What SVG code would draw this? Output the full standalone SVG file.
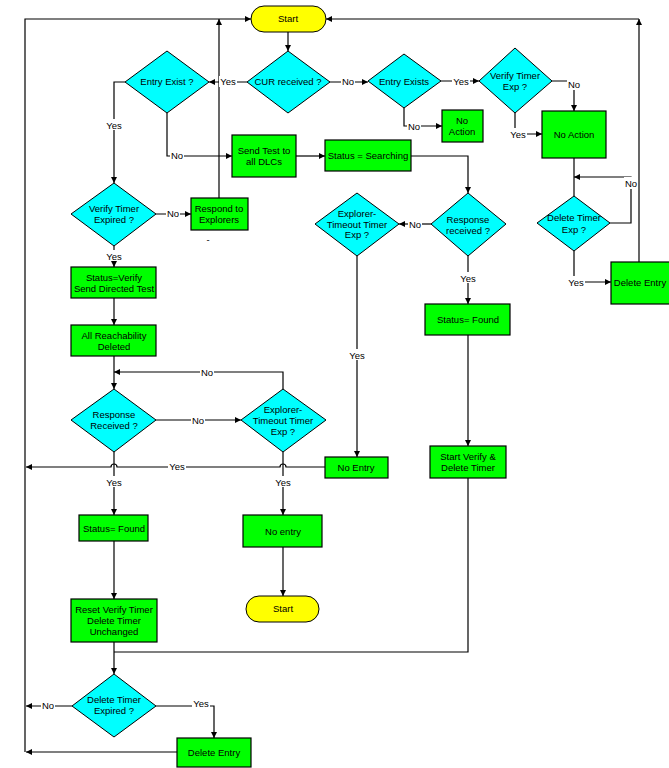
<svg xmlns="http://www.w3.org/2000/svg" width="669" height="768" viewBox="0 0 669 768">
<defs>
<marker id="ah" markerUnits="userSpaceOnUse" markerWidth="7" markerHeight="7" refX="6" refY="3" orient="auto">
<path d="M0,0 L6,3 L0,6 z" fill="#000"/>
</marker>
<style>
.t{font-family:"Liberation Sans",Arial,sans-serif;font-size:9.5px;fill:#000;text-anchor:middle;dominant-baseline:central}
.box{fill:#00ff00;stroke:#000;stroke-width:1.2}
.dia{fill:#00ffff;stroke:#000;stroke-width:1}
.term{fill:#ffff00;stroke:#000;stroke-width:1}
.c{fill:none;stroke:#000;stroke-width:1.2}
.a{marker-end:url(#ah)}
.bg{fill:#fff}
</style>
</defs>
<rect width="669" height="768" fill="#fff"/>

<g id="connectors">
<path class="c a" d="M25,752 V19 H251"/>
<path class="c a" d="M177,752 H26"/>
<path class="c a" d="M72,706 H26"/>
<path class="c a" d="M325,467 H286 A3,3 0 0 0 280,467 H117 A3,3 0 0 0 111,467 H26"/>
<path class="c a" d="M288,32 V51"/>
<path class="c a" d="M247,82 H209"/>
<path class="c a" d="M330,82 H368"/>
<path class="c a" d="M125,82 H114 V183"/>
<path class="c a" d="M167,113 V156 H232"/>
<path class="c a" d="M296,156 H325"/>
<path class="c a" d="M411,156 H468 V193"/>
<path class="c a" d="M431,224 H399"/>
<path class="c a" d="M357,256 V457"/>
<path class="c a" d="M468,256 V304"/>
<path class="c a" d="M468,335 V446"/>
<path class="c" d="M468,478 V652 H114"/>
<path class="c a" d="M441,81 H479"/>
<path class="c a" d="M404,108 V126 H442"/>
<path class="c a" d="M552,81 H574 V111"/>
<path class="c a" d="M515,113 V134 H542"/>
<path class="c" d="M574,158 V196"/>
<path class="c a" d="M610,223 H631 V177 H574"/>
<path class="c a" d="M574,251 V282 H611"/>
<path class="c a" d="M639,262 V19"/>
<path class="c a" d="M639,19 H326"/>
<path class="c a" d="M156,214 H191"/>
<path class="c a" d="M219,198 V19"/>
<path class="c a" d="M114,246 V267"/>
<path class="c a" d="M114,298 V325"/>
<path class="c a" d="M114,356 V389"/>
<path class="c a" d="M283,389 V372 H114"/>
<path class="c a" d="M156,420 H241"/>
<path class="c a" d="M114,452 V515"/>
<path class="c a" d="M283,452 V515"/>
<path class="c a" d="M283,547 V596"/>
<path class="c a" d="M114,541 V599"/>
<path class="c a" d="M114,642 V674"/>
<path class="c a" d="M156,706 H214 V738"/>
</g>

<g id="labels">
<rect class="bg" x="219" y="76" width="18" height="11"/><text class="t" x="228" y="81">Yes</text>
<rect class="bg" x="341" y="76" width="14" height="11"/><text class="t" x="348" y="81">No</text>
<rect class="bg" x="105" y="119" width="18" height="11"/><text class="t" x="114" y="125">Yes</text>
<rect class="bg" x="170" y="150" width="14" height="11"/><text class="t" x="177" y="155">No</text>
<rect class="bg" x="408" y="218" width="14" height="11"/><text class="t" x="415" y="224">No</text>
<rect class="bg" x="348" y="349" width="18" height="11"/><text class="t" x="357" y="355">Yes</text>
<rect class="bg" x="459" y="272" width="18" height="11"/><text class="t" x="468" y="278">Yes</text>
<rect class="bg" x="452" y="75" width="18" height="11"/><text class="t" x="461" y="81">Yes</text>
<rect class="bg" x="407" y="120" width="14" height="11"/><text class="t" x="414" y="126">No</text>
<rect class="bg" x="567" y="78" width="14" height="12"/><text class="t" x="574" y="84">No</text>
<rect class="bg" x="509" y="128" width="18" height="11"/><text class="t" x="518" y="134">Yes</text>
<rect class="bg" x="624" y="177" width="14" height="12"/><text class="t" x="631" y="183">No</text>
<rect class="bg" x="567" y="276" width="18" height="11"/><text class="t" x="576" y="282">Yes</text>
<rect class="bg" x="166" y="208" width="14" height="11"/><text class="t" x="173" y="213">No</text>
<text class="t" x="208" y="239">-</text>
<rect class="bg" x="105" y="250" width="18" height="11"/><text class="t" x="114" y="256">Yes</text>
<rect class="bg" x="200" y="366" width="14" height="11"/><text class="t" x="207" y="372">No</text>
<rect class="bg" x="191" y="414" width="14" height="11"/><text class="t" x="198" y="420">No</text>
<rect class="bg" x="168" y="461" width="18" height="11"/><text class="t" x="177" y="466">Yes</text>
<rect class="bg" x="105" y="476" width="18" height="11"/><text class="t" x="114" y="482">Yes</text>
<rect class="bg" x="274" y="476" width="18" height="11"/><text class="t" x="283" y="482">Yes</text>
<rect class="bg" x="192" y="698" width="18" height="11"/><text class="t" x="201" y="703">Yes</text>
<rect class="bg" x="41" y="700" width="14" height="11"/><text class="t" x="48" y="705">No</text>
</g>

<g id="start1"><rect class="term" x="251" y="6" width="75" height="26" rx="13"/><text class="t" x="288" y="18">Start</text></g>
<g id="cur"><polygon class="dia" points="288,51 330,82 288,113 247,82"/><text class="t" x="288" y="81">CUR received ?</text></g>
<g id="entryExist"><polygon class="dia" points="167,51 209,82 167,113 125,82"/><text class="t" x="167" y="81">Entry Exist ?</text></g>
<g id="entryExists"><polygon class="dia" points="404,54 441,81 404,108 368,81"/><text class="t" x="404" y="81">Entry  Exists</text></g>
<g id="verifyExp"><polygon class="dia" points="515,48 552,81 515,113 479,81"/><text class="t" x="515" y="75">Verify Timer</text><text class="t" x="515" y="86">Exp ?</text></g>
<g id="noAction1"><rect class="box" x="442" y="110" width="41" height="32"/><text class="t" x="462" y="120">No</text><text class="t" x="462" y="131">Action</text></g>
<g id="noAction2"><rect class="box" x="542" y="111" width="64" height="47"/><text class="t" x="574" y="134">No Action</text></g>
<g id="sendTest"><rect class="box" x="232" y="135" width="64" height="42"/><text class="t" x="264" y="150">Send Test to</text><text class="t" x="264" y="161">all DLCs</text></g>
<g id="statusSearching"><rect class="box" x="325" y="140" width="86" height="31"/><text class="t" x="368" y="155">Status = Searching</text></g>
<g id="verifyTimerExpired"><polygon class="dia" points="114,183 156,214 114,246 71,214"/><text class="t" x="114" y="208">Verify Timer</text><text class="t" x="114" y="219">Expired ?</text></g>
<g id="respond"><rect class="box" x="191" y="198" width="57" height="32"/><text class="t" x="219" y="208">Respond to</text><text class="t" x="219" y="219">Explorers</text></g>
<g id="explorer1"><polygon class="dia" points="357,193 399,224 357,256 315,224"/><text class="t" x="357" y="213">Explorer-</text><text class="t" x="357" y="224">Timeout Timer</text><text class="t" x="357" y="234">Exp ?</text></g>
<g id="responseReceived1"><polygon class="dia" points="468,193 506,224 468,256 431,224"/><text class="t" x="468" y="219">Response</text><text class="t" x="468" y="230">received ?</text></g>
<g id="deleteTimerExp"><polygon class="dia" points="574,196 610,223 574,251 537,223"/><text class="t" x="574" y="217">Delete Timer</text><text class="t" x="574" y="229">Exp ?</text></g>
<g id="deleteEntry1"><rect class="box" x="611" y="262" width="62" height="42"/><text class="t" x="640" y="282">Delete Entry</text></g>
<g id="statusVerify"><rect class="box" x="71" y="267" width="85" height="31"/><text class="t" x="114" y="277">Status=Verify</text><text class="t" x="114" y="288">Send Directed Test</text></g>
<g id="allReachability"><rect class="box" x="71" y="325" width="85" height="31"/><text class="t" x="114" y="335">All Reachability</text><text class="t" x="114" y="346">Deleted</text></g>
<g id="responseReceived2"><polygon class="dia" points="114,389 156,420 114,452 71,420"/><text class="t" x="114" y="414">Response</text><text class="t" x="114" y="425">Received ?</text></g>
<g id="explorer2"><polygon class="dia" points="283,389 326,420 283,452 241,420"/><text class="t" x="283" y="409">Explorer-</text><text class="t" x="283" y="420">Timeout Timer</text><text class="t" x="283" y="431">Exp ?</text></g>
<g id="noEntry1"><rect class="box" x="325" y="457" width="63" height="21"/><text class="t" x="356" y="467">No Entry</text></g>
<g id="statusFound1"><rect class="box" x="425" y="304" width="85" height="31"/><text class="t" x="468" y="319">Status= Found</text></g>
<g id="startVerify"><rect class="box" x="430" y="446" width="76" height="32"/><text class="t" x="468" y="456">Start Verify &amp;</text><text class="t" x="468" y="467">Delete Timer</text></g>
<g id="statusFound2"><rect class="box" x="79" y="515" width="69" height="26"/><text class="t" x="114" y="528">Status= Found</text></g>
<g id="noEntry2"><rect class="box" x="243" y="515" width="79" height="32"/><text class="t" x="283" y="531">No entry</text></g>
<g id="start2"><rect class="term" x="246" y="596" width="73" height="26" rx="13"/><text class="t" x="283" y="608">Start</text></g>
<g id="reset"><rect class="box" x="71" y="599" width="86" height="43"/><text class="t" x="114" y="609">Reset Verify Timer</text><text class="t" x="114" y="620">Delete Timer</text><text class="t" x="114" y="631">Unchanged</text></g>
<g id="deleteTimerExpired"><polygon class="dia" points="114,674 156,706 114,737 72,706"/><text class="t" x="114" y="699">Delete Timer</text><text class="t" x="114" y="710">Expired ?</text></g>
<g id="deleteEntry2"><rect class="box" x="177" y="738" width="74" height="29"/><text class="t" x="214" y="752">Delete Entry</text></g>
</svg>
